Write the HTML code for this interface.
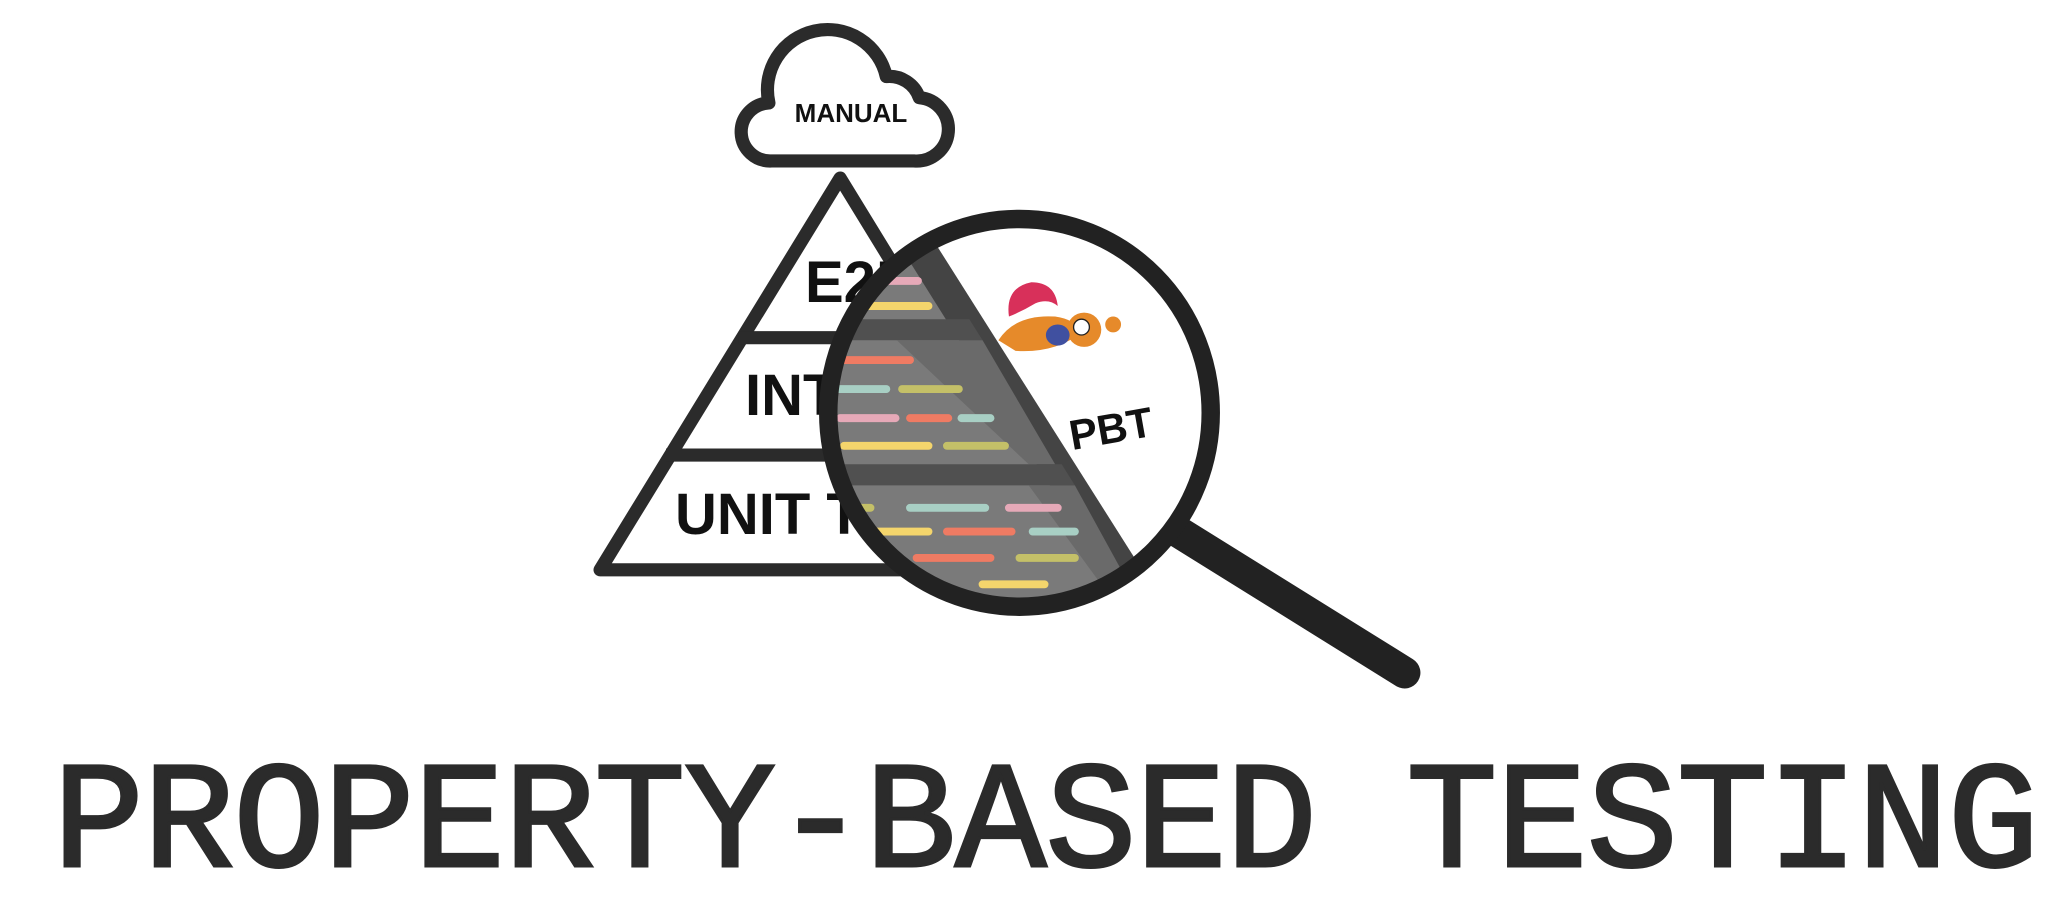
<!DOCTYPE html>
<html><head><meta charset="utf-8"><style>
html,body{margin:0;padding:0;background:#fff;}
.wrap{position:relative;width:2068px;height:918px;overflow:hidden;background:#fff;}
svg{position:absolute;left:0;top:0;display:block;}
.t{position:absolute;font-family:"Liberation Sans",sans-serif;font-weight:bold;color:#111;line-height:1;white-space:nowrap;}
</style></head><body>
<div class="wrap">
<svg width="2068" height="918" viewBox="0 0 1568 696" xmlns="http://www.w3.org/2000/svg">
<path d="M585,122 A22,22 0 0 1 583,78 A45,45 0 0 1 672,58 A24,24 0 0 1 697,74 A24,24 0 0 1 693,122 Z" fill="#fff" stroke="#2b2b2b" stroke-width="10" stroke-linejoin="round"/>
<path d="M637,135 L455,432 L819,432 Z" fill="#fff" stroke="#2b2b2b" stroke-width="10" stroke-linejoin="round"/>
<line x1="560" y1="256" x2="720" y2="256" stroke="#2b2b2b" stroke-width="10"/>
<line x1="505" y1="345" x2="770" y2="345" stroke="#2b2b2b" stroke-width="10"/>
</svg>
<div class="t" style="left:790px;top:100px;width:122px;text-align:center;font-size:26px;">MANUAL</div>
<div class="t" style="left:805px;top:254px;font-size:58px;">E2E</div>
<div class="t" style="left:745px;top:367px;font-size:58px;">INT</div>
<div class="t" style="left:675px;top:486px;font-size:58px;">UNIT T</div>
<svg width="2068" height="918" viewBox="0 0 1568 696" xmlns="http://www.w3.org/2000/svg">
<line x1="885" y1="398" x2="1065" y2="510" stroke="#222" stroke-width="24" stroke-linecap="round"/>
<defs><clipPath id="c"><ellipse cx="773" cy="313" rx="145" ry="147"/></clipPath></defs>
<ellipse cx="773" cy="313" rx="145" ry="147" fill="#fff"/>
<g clip-path="url(#c)">
<path d="M600,150 L672,170 L870,470 L600,470 Z" fill="#7a7a7a"/>
<path d="M672,170 L700,170 L890,470 L860,470 Z" fill="#444"/>
<path d="M600,242 L735,242 L745,258 L600,258 Z" fill="#505050"/>
<path d="M680,258 L745,258 L800,352 L780,352 Z" fill="#6a6a6a"/>
<path d="M600,352 L805,352 L815,368 L600,368 Z" fill="#505050"/>
<path d="M780,368 L815,368 L860,450 L840,450 Z" fill="#6a6a6a"/>
<g stroke-width="6" stroke-linecap="round">
<line x1="652" y1="213" x2="696" y2="213" stroke="#e6a9b8"/>
<line x1="646" y1="232" x2="704" y2="232" stroke="#f4d56c"/>
<line x1="640" y1="273" x2="690" y2="273" stroke="#ef7b63"/>
<line x1="635" y1="295" x2="672" y2="295" stroke="#a8cfc4"/>
<line x1="684" y1="295" x2="727" y2="295" stroke="#c4c068"/>
<line x1="637" y1="317" x2="679" y2="317" stroke="#e6a9b8"/>
<line x1="690" y1="317" x2="719" y2="317" stroke="#ef7b63"/>
<line x1="729" y1="317" x2="751" y2="317" stroke="#a8cfc4"/>
<line x1="640" y1="338" x2="704" y2="338" stroke="#f4d56c"/>
<line x1="718" y1="338" x2="762" y2="338" stroke="#c4c068"/>
<line x1="648" y1="385" x2="660" y2="385" stroke="#c4c068"/>
<line x1="690" y1="385" x2="747" y2="385" stroke="#a8cfc4"/>
<line x1="765" y1="385" x2="802" y2="385" stroke="#e6a9b8"/>
<line x1="662" y1="403" x2="704" y2="403" stroke="#f4d56c"/>
<line x1="718" y1="403" x2="767" y2="403" stroke="#ef7b63"/>
<line x1="783" y1="403" x2="815" y2="403" stroke="#a8cfc4"/>
<line x1="695" y1="423" x2="751" y2="423" stroke="#ef7b63"/>
<line x1="773" y1="423" x2="815" y2="423" stroke="#c4c068"/>
<line x1="745" y1="443" x2="792" y2="443" stroke="#f4d56c"/>
</g>
<path d="M765,240 Q762,218 782,214 Q800,214 802,232 Q795,226 785,230 Q775,236 765,240 Z" fill="#d8305a"/>
<path d="M757,258 Q770,238 800,240 Q815,242 820,252 Q800,268 770,266 Z" fill="#e68a2a"/>
<circle cx="822" cy="250" r="13" fill="#e68a2a"/>
<circle cx="820" cy="248" r="6" fill="#fff" stroke="#222" stroke-width="1"/>
<ellipse cx="802" cy="254" rx="9" ry="8" fill="#4050a0"/>
<circle cx="844" cy="246" r="6" fill="#e68a2a"/>
</g>
<ellipse cx="773" cy="313" rx="145" ry="147" fill="none" stroke="#222" stroke-width="14"/>
</svg>
<div class="t" style="left:1061px;top:408px;width:100px;text-align:center;font-size:42px;transform:rotate(-10deg);">PBT</div>
<div style="position:absolute;left:53px;top:750px;width:1985px;font-family:'Liberation Mono',monospace;font-size:152px;line-height:1;color:#2b2b2b;letter-spacing:-1px;-webkit-text-stroke:3px #2b2b2b;white-space:nowrap;display:flex;justify-content:space-between;">
<span>P</span><span>R</span><span>O</span><span>P</span><span>E</span><span>R</span><span>T</span><span>Y</span><span>-</span><span>B</span><span>A</span><span>S</span><span>E</span><span>D</span><span>&nbsp;</span><span>T</span><span>E</span><span>S</span><span>T</span><span>I</span><span>N</span><span>G</span>
</div>
</div>
</body></html>
